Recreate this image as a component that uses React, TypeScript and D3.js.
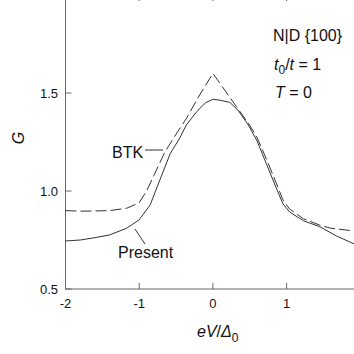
import React from "react";
import * as d3 from "d3";

const xTicks = [-2, -1, 0, 1];
const yTicks = [0.5, 1.0, 1.5];
const btkV = [-2, -1.8, -1.6, -1.4, -1.17, -1.0, -0.9, -0.8, -0.65, -0.5, -0.36, -0.18, 0, 0.16, 0.32, 0.5, 0.6, 0.73, 0.86, 0.95, 1.04, 1.23, 1.45, 1.6, 1.9, 2.0];
const btkG = [0.9, 0.897, 0.898, 0.9, 0.912, 0.94, 1.0, 1.08, 1.2, 1.29, 1.37, 1.49, 1.6, 1.515, 1.43, 1.335, 1.272, 1.16, 1.04, 0.955, 0.908, 0.858, 0.826, 0.81, 0.797, 0.795];
const presV = [-2, -1.8, -1.6, -1.4, -1.17, -1.0, -0.85, -0.72, -0.58, -0.45, -0.36, -0.22, -0.1, 0, 0.1, 0.23, 0.34, 0.48, 0.6, 0.73, 0.86, 0.95, 1.04, 1.23, 1.45, 1.68, 1.9, 2.0];
const presG = [0.745, 0.75, 0.762, 0.776, 0.81, 0.853, 0.93, 1.056, 1.19, 1.27, 1.337, 1.405, 1.45, 1.468, 1.463, 1.452, 1.413, 1.337, 1.255, 1.135, 1.015, 0.935, 0.893, 0.848, 0.818, 0.77, 0.733, 0.72];

const FONT = "'Liberation Sans', Arial, Helvetica, sans-serif";

export default function App() {
  const x = d3.scaleLinear().domain([-2, 2]).range([65.5, 360.3]);
  const y = d3.scaleLinear().domain([0.5, 2.0]).range([289, -5]);
  const line = d3
    .line<[number, number]>()
    .x((d) => x(d[0]))
    .y((d) => y(d[1]));
  const btk = line(btkV.map((v, i) => [v, btkG[i]] as [number, number])) || "";
  const pres = line(presV.map((v, i) => [v, presG[i]] as [number, number])) || "";
  const axisCol = "#666";
  const curveCol = "#333";
  return (
    <svg
      width={354}
      height={354}
      style={{ position: "absolute", left: 0, top: 0, background: "#fff" }}
      fontFamily={FONT}
    >
      <rect x={0} y={0} width={354} height={354} fill="#fff" />
      {/* frame */}
      <rect x={x(-2)} y={y(2)} width={x(2) - x(-2)} height={y(0.5) - y(2)} fill="none" stroke={axisCol} strokeWidth={1} />
      {xTicks.map((t) => (
        <g key={"xt" + t}>
          <line x1={x(t)} x2={x(t)} y1={y(0.5)} y2={y(0.5) - 6} stroke={axisCol} />
          <line x1={x(t)} x2={x(t)} y1={y(2)} y2={y(2) + 6} stroke={axisCol} />
          <text x={x(t)} y={308} fontSize={13} textAnchor="middle" fill="#111">
            {t < 0 ? "-" + Math.abs(t) : String(t)}
          </text>
        </g>
      ))}
      {yTicks.map((t) => (
        <g key={"yt" + t}>
          <line x1={x(-2)} x2={x(-2) + 6} y1={y(t)} y2={y(t)} stroke={axisCol} />
          <text x={58} y={y(t) + 4.5} fontSize={13} textAnchor="end" fill="#111">
            {t.toFixed(1)}
          </text>
        </g>
      ))}
      {/* curves */}
      <path d={btk} fill="none" stroke={curveCol} strokeWidth={1} strokeDasharray="11,4" />
      <path d={pres} fill="none" stroke={curveCol} strokeWidth={1} />
      {/* labels */}
      <text x={112} y={158} fontSize={16} fill="#111">BTK</text>
      <line x1={145} x2={163} y1={150} y2={150} stroke={curveCol} />
      <text x={118} y={258} fontSize={16} fill="#111">Present</text>
      <line x1={135} x2={145} y1={229} y2={244} stroke={curveCol} />
      <text x={273} y={41} fontSize={16} fill="#111">N|D {"{100}"}</text>
      <text x={274} y={70} fontSize={16} fill="#111">
        <tspan fontStyle="italic">t</tspan>
        <tspan fontSize={12} dy={4}>0</tspan>
        <tspan dy={-4}>/</tspan>
        <tspan fontStyle="italic">t</tspan>
        <tspan> = 1</tspan>
      </text>
      <text x={275} y={98} fontSize={16} fill="#111">
        <tspan fontStyle="italic">T</tspan>
        <tspan> = 0</tspan>
      </text>
      <text x={197} y={337} fontSize={16} fill="#111">
        <tspan fontStyle="italic">eV</tspan>
        <tspan>/</tspan>
        <tspan fontStyle="italic">Δ</tspan>
        <tspan fontSize={12} dy={5}>0</tspan>
      </text>
      <text transform="translate(24,138) rotate(-90)" fontSize={16} fontStyle="italic" textAnchor="middle" fill="#111">
        G
      </text>
    </svg>
  );
}
